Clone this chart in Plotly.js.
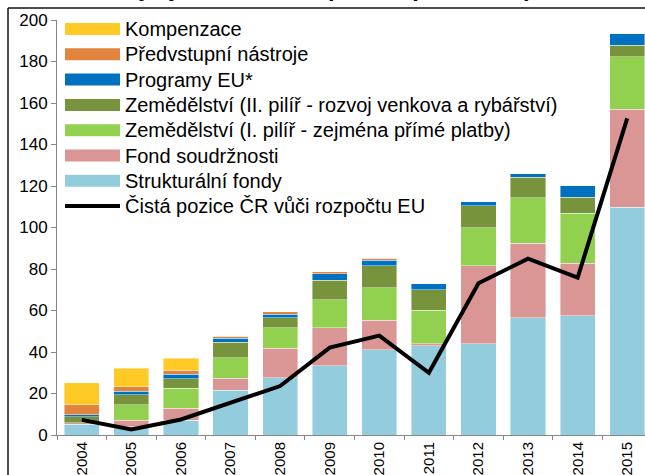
<!DOCTYPE html>
<html>
<head>
<meta charset="utf-8">
<script src="https://cdn.plot.ly/plotly-3.0.1.min.js"></script>
<style>
html,body{margin:0;padding:0;overflow:hidden;background:#fff;width:645px;height:475px;}
#chart{width:660px;height:475px;}
</style>
</head>
<body>
<div id="chart"></div>
<script>
const years = ["2004","2005","2006","2007","2008","2009","2010","2011","2012","2013","2014","2015"];
const strukturalni = [5.1, 4.0, 7.2, 21.5, 27.5, 33.3, 41.0, 42.9, 43.9, 56.5, 57.5, 109.7];
const fondSoudrznosti = [0.8, 3.0, 5.7, 5.8, 14.3, 18.3, 14.4, 1.0, 37.7, 35.9, 25.2, 47.3];
const zemedelstviI = [0, 7.7, 9.6, 10.0, 9.9, 13.5, 15.6, 16.3, 18.3, 22.0, 24.1, 25.3];
const zemedelstviII = [3.0, 4.7, 4.6, 7.5, 4.7, 9.6, 10.6, 9.7, 10.6, 9.8, 7.7, 5.5];
const programyEU = [0.8, 1.7, 2.2, 1.8, 1.8, 2.9, 2.7, 2.9, 1.8, 1.6, 5.8, 5.8];
const predvstupni = [5.0, 2.2, 1.9, 1.0, 1.1, 1.0, 0.8, 0, 0, 0, 0, 0];
const kompenzace = [10.6, 8.8, 5.8, 0, 0, 0, 0, 0, 0, 0, 0, 0];
const cistaPozice = [7.3, 2.7, 7.5, 15.5, 23.6, 42.1, 47.9, 30.0, 73.1, 85.0, 75.8, 152.6];

const barNames = ["Strukturální fondy","Fond soudržnosti","Zemědělství (I. pilíř - zejména přímé platby)","Zemědělství (II. pilíř - rozvoj venkova a rybářství)","Programy EU*","Předvstupní nástroje","Kompenzace"];
const lineName = "Čistá pozice ČR vůči rozpočtu EU";
const titleText = "Příjmy z EU a čistá pozice (v mld. Kč)";

const barData = [strukturalni, fondSoudrznosti, zemedelstviI, zemedelstviII, programyEU, predvstupni, kompenzace];
const barColors = ["#93CDDD","#D99694","#92D050","#77933C","#0070C0","#E0843E","#FFC926"];

const FONT = "Liberation Sans, Arial, sans-serif";
// plot area in pixels
const L = 57, R = 652, T = 20, B = 435;
const px = x => (x - L) / (R - L);
const py = y => (B - y) / (B - T);

const traces = barData.map((vals, i) => ({
  type: "bar", x: years, y: vals, name: barNames[i],
  marker: {color: barColors[i], line: {width: 0.6, color: "rgba(255,255,255,0.7)"}},
  showlegend: false, hoverinfo: "skip"
}));
traces.push({
  type: "scatter", mode: "lines", x: years, y: cistaPozice, name: lineName,
  line: {color: "#000", width: 4}, showlegend: false, hoverinfo: "skip"
});

// custom legend (top to bottom: Kompenzace ... line)
const legendOrder = [6,5,4,3,2,1,0];
const shapes = [];
const annotations = [];
legendOrder.forEach((bi, k) => {
  const cy = 29 + 25.3 * k;
  shapes.push({type: "rect", xref: "paper", yref: "paper",
    x0: px(65), x1: px(120), y0: py(cy + 6), y1: py(cy - 6),
    fillcolor: barColors[bi], line: {width: 0}});
  annotations.push({xref: "paper", yref: "paper", x: px(123), y: py(cy),
    xanchor: "left", yanchor: "middle", text: barNames[bi], showarrow: false,
    font: {family: FONT, size: 20, color: "#000"}});
});
{
  const cy = 29 + 25.3 * 7;
  shapes.push({type: "line", xref: "paper", yref: "paper",
    x0: px(65), x1: px(120), y0: py(cy), y1: py(cy), line: {color: "#000", width: 4}});
  annotations.push({xref: "paper", yref: "paper", x: px(123), y: py(cy),
    xanchor: "left", yanchor: "middle", text: lineName, showarrow: false,
    font: {family: FONT, size: 20, color: "#000"}});
}
// frame border
shapes.push({type: "line", xref: "paper", yref: "paper", x0: px(8), x1: px(8), y0: py(8), y1: py(490), line: {color: "#111", width: 1.5}});
shapes.push({type: "line", xref: "paper", yref: "paper", x0: px(8), x1: px(700), y0: py(8), y1: py(8), line: {color: "#111", width: 1.5}});
// clipped title (cut off at the top edge, as in the reference)
annotations.push({xref: "paper", yref: "paper", x: px(320), y: py(3), xanchor: "center", yanchor: "bottom",
  text: "<b>" + titleText + "</b>", showarrow: false, font: {family: FONT, size: 24, color: "#000"}});

const layout = {
  width: 660, height: 475,
  margin: {l: L, r: 660 - R, t: T, b: 475 - B, pad: 0},
  paper_bgcolor: "#fff", plot_bgcolor: "#fff",
  barmode: "stack", bargap: 0.29,
  showlegend: false,
  font: {family: FONT, size: 17, color: "#000"},
  xaxis: {
    type: "category", tickangle: -90, ticks: "outside", tickson: "boundaries",
    ticklen: 4, tickcolor: "#868686", showline: true, linecolor: "#868686", linewidth: 1,
    showgrid: false, zeroline: false, tickfont: {family: FONT, size: 15, color: "#000"}
  },
  yaxis: {
    range: [0, 200], dtick: 20, ticks: "outside", ticklen: 5, tickcolor: "#868686",
    showline: true, linecolor: "#868686", linewidth: 1, showgrid: false, zeroline: false,
    tickfont: {family: FONT, size: 17, color: "#000"}
  },
  shapes: shapes,
  annotations: annotations
};

Plotly.newPlot("chart", traces, layout, {staticPlot: true, displayModeBar: false});
</script>
</body>
</html>
